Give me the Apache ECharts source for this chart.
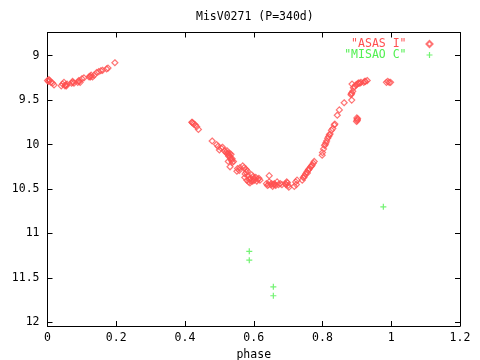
<!DOCTYPE html>
<html>
<head>
<meta charset="utf-8">
<script src="https://cdn.jsdelivr.net/npm/echarts@6/dist/echarts.min.js"></script>
<style>html,body{margin:0;padding:0;background:#fff}#c{width:480px;height:360px}</style>
</head>
<body>
<div id="c"></div>
<script>
var titleText = 'MisV0271 (P=340d)';
var xName = 'phase';
var seriesNames = ['"ASAS I"', '"MISAO C"'];
var xTicks = [0, 0.2, 0.4, 0.6, 0.8, 1, 1.2];
var yTicks = [9, 9.5, 10, 10.5, 11, 11.5, 12];

var asasPhase = [
  0.000, 0.003, 0.006, 0.004, 0.010, 0.015, 0.019, 0.040, 0.044, 0.048, 0.052, 0.055, 0.057,
  0.054, 0.051, 0.070, 0.074, 0.077, 0.073, 0.088, 0.092, 0.095, 0.091, 0.100, 0.106, 0.121,
  0.124, 0.127, 0.131, 0.136, 0.125, 0.143, 0.149, 0.155, 0.160, 0.172, 0.176, 0.196,
  0.420, 0.423, 0.426, 0.421, 0.430, 0.434, 0.439,
  0.479, 0.492, 0.496, 0.500, 0.505, 0.509, 0.515, 0.519, 0.522, 0.525, 0.528, 0.531, 0.534,
  0.537, 0.535, 0.526, 0.541, 0.531, 0.523, 0.527, 0.530, 0.533, 0.538,
  0.553, 0.558, 0.568, 0.572, 0.578, 0.582, 0.575, 0.574, 0.580, 0.585, 0.590, 0.594, 0.598,
  0.602, 0.606, 0.612, 0.618, 0.589, 0.597, 0.578, 0.583, 0.587, 0.592, 0.600, 0.609, 0.615,
  0.551, 0.560,
  0.645, 0.637, 0.640, 0.645, 0.650, 0.655, 0.660, 0.664, 0.668, 0.672, 0.677, 0.682, 0.692,
  0.696, 0.700, 0.702, 0.718, 0.722, 0.724, 0.726, 0.643, 0.652, 0.657, 0.662, 0.694, 0.698,
  0.741, 0.744, 0.748, 0.751, 0.754, 0.758, 0.762, 0.766, 0.770, 0.773, 0.776, 0.746, 0.756,
  0.760, 0.768,
  0.799, 0.800, 0.803, 0.806, 0.808, 0.812, 0.815, 0.818, 0.822, 0.826, 0.830, 0.834, 0.836,
  0.810, 0.820,
  0.843, 0.849, 0.863, 0.885,
  0.883, 0.885, 0.888, 0.886, 0.890, 0.893, 0.897, 0.901, 0.904, 0.909, 0.912, 0.920, 0.925, 0.930,
  0.884, 0.906, 0.923,
  0.900, 0.901, 0.902, 0.899, 0.901,
  0.986, 0.990, 0.994, 0.998
];
var asasMag = [
  9.28, 9.29, 9.28, 9.27, 9.30, 9.31, 9.33, 9.34, 9.32, 9.30, 9.33, 9.34, 9.32,
  9.33, 9.34, 9.31, 9.30, 9.31, 9.29, 9.30, 9.29, 9.30, 9.28, 9.26, 9.25, 9.24,
  9.23, 9.22, 9.24, 9.22, 9.24, 9.19, 9.18, 9.17, 9.165, 9.15, 9.14, 9.08,
  9.75, 9.76, 9.77, 9.75, 9.78, 9.80, 9.83,
  9.96, 10.00, 10.02, 10.06, 10.04, 10.03, 10.07, 10.09, 10.07, 10.10, 10.12, 10.14, 10.11,
  10.16, 10.18, 10.19, 10.19, 10.25, 10.10, 10.13, 10.10, 10.16, 10.20,
  10.27, 10.29, 10.24, 10.26, 10.28, 10.30, 10.33, 10.37, 10.40, 10.42, 10.38, 10.34, 10.36,
  10.40, 10.37, 10.39, 10.40, 10.43, 10.41, 10.31, 10.35, 10.39, 10.41, 10.38, 10.41, 10.38,
  10.30, 10.26,
  10.35, 10.44, 10.46, 10.42, 10.45, 10.47, 10.44, 10.46, 10.42, 10.45, 10.44, 10.45, 10.44,
  10.42, 10.46, 10.48, 10.47, 10.42, 10.45, 10.40, 10.45, 10.44, 10.45, 10.45, 10.45, 10.43,
  10.40, 10.37, 10.35, 10.33, 10.31, 10.29, 10.27, 10.25, 10.23, 10.21, 10.19, 10.37, 10.32,
  10.28, 10.24,
  10.12, 10.09, 10.05, 10.01, 10.00, 9.96, 9.93, 9.91, 9.88, 9.84, 9.82, 9.78, 9.77,
  9.98, 9.89,
  9.67, 9.61, 9.53, 9.50,
  9.44, 9.42, 9.40, 9.32, 9.36, 9.35, 9.33, 9.32, 9.31, 9.31, 9.30, 9.30, 9.29, 9.28,
  9.43, 9.31, 9.29,
  9.70, 9.72, 9.71, 9.74, 9.73,
  9.30, 9.29, 9.30, 9.30
];
var misaoPhase = [0.587, 0.587, 0.657, 0.657, 0.977];
var misaoMag = [11.20, 11.30, 11.60, 11.70, 10.70];

var RED = '#ff5050';
var GREEN = '#50f050';
var FONT = 'DejaVu Sans Mono';
var FS = 11.5;

function pairs(xs, ys) { return xs.map(function (x, i) { return [x, ys[i]]; }); }

var chart = echarts.init(document.getElementById('c'), null, { renderer: 'canvas' });
var xBase = { min: 0, max: 1.2, interval: 0.2, splitLine: { show: false },
  axisLine: { lineStyle: { color: '#000', width: 1 } },
  axisTick: { inside: true, length: 5, lineStyle: { color: '#000' } } };
var yBase = { min: 8.74, max: 12.04, inverse: true, splitLine: { show: false },
  axisLine: { onZero: false, lineStyle: { color: '#000', width: 1 } } };

chart.setOption({
  animation: false,
  backgroundColor: '#fff',
  title: { text: titleText, left: 191, top: 6,
    textStyle: { fontFamily: FONT, fontSize: FS, fontWeight: 'normal', color: '#000' } },
  grid: { left: 47.5, right: 20, top: 32.5, bottom: 34, containLabel: false, outerBoundsMode: 'none' },
  legend: {
    orient: 'vertical', right: 46.5, top: 38, align: 'right',
    itemWidth: 6, itemHeight: 6, itemGap: -1, padding: 0,
    textStyle: { fontFamily: FONT, fontSize: FS, padding: [0, 15, 0, 0] },
    data: [
      { name: seriesNames[0], textStyle: { color: RED } },
      { name: seriesNames[1], textStyle: { color: GREEN } }
    ]
  },
  xAxis: [
    Object.assign({}, xBase, { type: 'value', position: 'bottom',
      name: xName, nameLocation: 'middle', nameGap: 23,
      nameTextStyle: { fontFamily: FONT, fontSize: FS, color: '#000' },
      axisLabel: { margin: 6, color: '#000', fontFamily: FONT, fontSize: FS } }),
    Object.assign({}, xBase, { type: 'value', position: 'top', axisLabel: { show: false } })
  ],
  yAxis: [
    Object.assign({}, yBase, { type: 'value', position: 'left',
      axisTick: { inside: true, length: 5, customValues: yTicks, lineStyle: { color: '#000' } },
      axisLabel: { margin: 8, customValues: yTicks, color: '#000', fontFamily: FONT, fontSize: FS } }),
    Object.assign({}, yBase, { type: 'value', position: 'right',
      axisTick: { inside: true, length: 5, customValues: yTicks, lineStyle: { color: '#000' } },
      axisLabel: { show: false } })
  ],
  series: [
    { name: seriesNames[0], type: 'scatter', symbol: 'diamond', symbolSize: 6,
      data: pairs(asasPhase, asasMag),
      itemStyle: { color: 'rgba(255,80,80,0)', borderColor: RED, borderWidth: 1.2 } },
    { name: seriesNames[1], type: 'scatter',
      symbol: 'path://M2,0h1v5h-1z M0,2h5v1h-5z', symbolSize: 6,
      data: pairs(misaoPhase, misaoMag),
      itemStyle: { color: GREEN } }
  ]
});
</script>
</body>
</html>
